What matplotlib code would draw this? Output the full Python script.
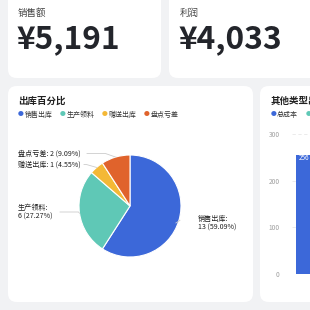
import numpy as np
import matplotlib
matplotlib.use("Agg")
import matplotlib.pyplot as plt
from matplotlib.patches import FancyBboxPatch

plt.rcParams['font.family'] = ['Noto Sans CJK SC', 'DejaVu Sans']

# 数据
kpi_titles = ["销售额", "利润"]
kpi_values = ["¥5,191", "¥4,033"]

pie_labels = ["销售出库", "生产领料", "赠送出库", "盘点亏差"]
pie_counts = [13, 6, 1, 2]
pie_colors = ["#3c68d9", "#5fc8b6", "#f4b836", "#e0632c"]

bar_title = "其他类型出库"
bar_legend = ["总成本", "其他"]
bar_legend_colors = ["#3c68d9", "#5fc8b6"]
bar_values = [256]
bar_ticks = [0, 100, 200, 300]

W = H = 310
fig = plt.figure(figsize=(3.1, 3.1), dpi=100)
fig.patch.set_facecolor("#f1f2f4")


def fx(x):
    return x / W


def fy(y):
    return 1 - y / H


def card(x0, y0, x1, y1):
    p = FancyBboxPatch((fx(x0), fy(y1)), fx(x1 - x0), (y1 - y0) / H,
                       boxstyle="round,pad=0,rounding_size=0.028",
                       transform=fig.transFigure, facecolor="white",
                       edgecolor="none", zorder=-5)
    fig.patches.append(p)


# 卡片
card(8, -20, 161, 78)
card(169, -20, 330, 78)
card(8, 86, 253, 302)
card(260, 86, 330, 302)

# KPI
for i, (t, v) in enumerate(zip(kpi_titles, kpi_values)):
    x = 18 + i * 162
    fig.text(fx(x), fy(13), t, fontsize=6.8, color="#444444", va="center")
    fig.text(fx(x - 1), fy(48), v, fontsize=22.8, fontweight="bold",
             color="#23252b", va="baseline")

# 饼图卡片标题和图例
fig.text(fx(18), fy(101), "出库百分比", fontsize=6.8, fontweight="bold",
         color="#222222", va="center")
lx = 18
for lab, col in zip(pie_labels, pie_colors):
    fig.text(fx(lx), fy(115), "●", fontsize=4.2, color=col, va="center")
    fig.text(fx(lx + 6.5), fy(115), lab, fontsize=5.0, color="#333333", va="center")
    lx += 42

# 饼图
cx, cy, r = 130, 206, 51
ax = fig.add_axes([fx(cx - r), fy(cy + r), 2 * r / W, 2 * r / H])
ax.set_zorder(2)
wedges, _ = ax.pie(pie_counts, colors=pie_colors, startangle=90,
                   counterclock=False,
                   wedgeprops=dict(edgecolor="white", linewidth=0.8))
ax.set_xlim(-1, 1)
ax.set_ylim(-1, 1)
ax.set_aspect("equal")

total = sum(pie_counts)
# 标签位置 (像素): 文字x, 文字y, 折线起点x
label_pos = [(198, 223, 182),
             (18, 212, 60),
             (18, 164.5, 84),
             (18, 153.5, 87)]
for w, lab, n, (tx, ty, sx) in zip(wedges, pie_labels, pie_counts, label_pos):
    pct = n / total * 100
    if n >= 5:
        txt = f"{lab}:\n{n} ({pct:.2f}%)"
    else:
        txt = f"{lab}: {n} ({pct:.2f}%)"
    fig.text(fx(tx), fy(ty), txt, fontsize=5.1, color="#1e1e1e",
             va="center", ha="left", linespacing=1.05)
    ang = np.deg2rad((w.theta1 + w.theta2) / 2)
    ex, ey = np.cos(ang), np.sin(ang)
    lx_d = (sx - cx) / r
    ly_d = (cy - ty) / r
    if ex > 0:
        xs = [ex * 1.02, lx_d - 0.12]
        ys = [ey, ly_d]
    else:
        elbow = ex * 1.0 - 0.2 if abs(ey) > 0.3 else ex * 1.02
        xs = [ex * 1.0, elbow, lx_d]
        ys = [ey, ly_d, ly_d]
    ax.plot(xs, ys, color="#cccccc", lw=0.6, clip_on=False)

# 柱状图卡片
fig.text(fx(271), fy(101), bar_title, fontsize=6.8, fontweight="bold",
         color="#222222", va="center")
bx = 271
for lab, col in zip(bar_legend, bar_legend_colors):
    fig.text(fx(bx), fy(115), "●", fontsize=4.2, color=col, va="center")
    fig.text(fx(bx + 6), fy(115), lab, fontsize=5.0, color="#333333", va="center")
    bx += 35

bax = fig.add_axes([fx(292), fy(274), 80 / W, 140 / H])
bax.set_zorder(2)
bax.bar([0], bar_values, width=0.5, color="#3c68d9", zorder=2)
for v in bar_values:
    bax.text(-0.2, v - 8, str(v), color="white", fontsize=4.6, va="center")
bax.set_xlim(-0.32, 1)
bax.set_ylim(0, 300)
bax.set_yticks(bar_ticks)
bax.set_yticklabels([str(t) for t in bar_ticks], fontsize=4.8, color="#a0a0a0")
bax.tick_params(axis="y", length=0, pad=9)
bax.set_xticks([])
bax.grid(axis="y", color="#e8e8e8", lw=0.6, ls=(0, (4, 3)), zorder=0)
for s in bax.spines.values():
    s.set_visible(False)
bax.patch.set_alpha(0)

fig.savefig("out.png", dpi=100, facecolor=fig.get_facecolor())
